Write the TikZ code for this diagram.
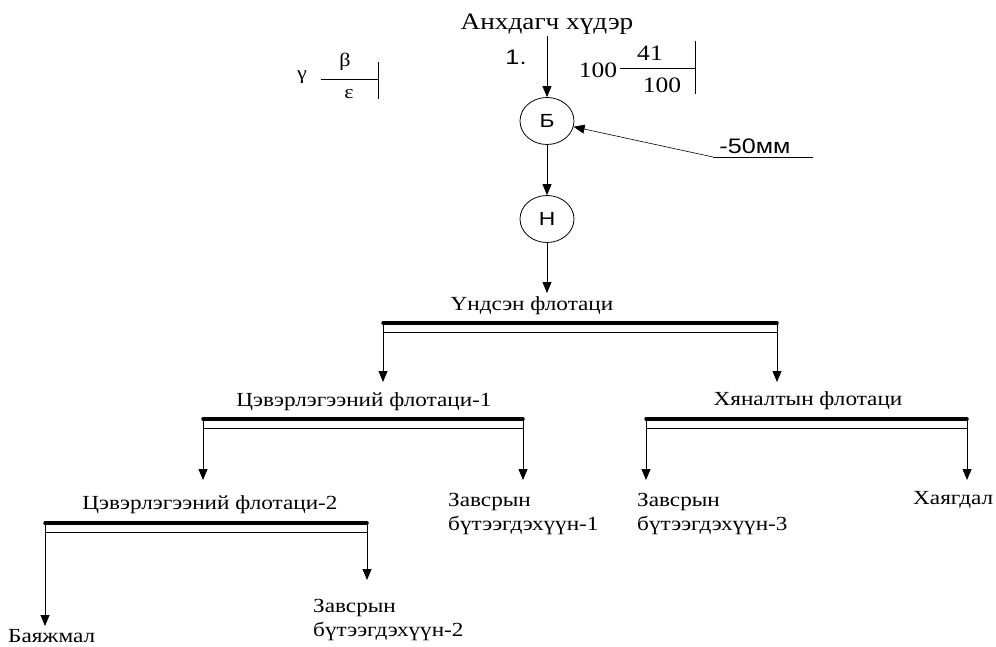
\documentclass[tikz,border=0pt]{standalone}
\usepackage{fontspec}
\setmainfont{Liberation Serif}[FakeStretch=1.16]
\newfontfamily\arialw{Liberation Sans}[FakeStretch=1.2]
\usetikzlibrary{arrows.meta,shapes.geometric}
\tikzset{
  flow/.style={-{Triangle[width=9pt,length=11pt]}, line width=0.8pt},
  lbl/.style={font=\fontsize{20}{24}\selectfont, inner sep=2pt},
  numlbl/.style={font=\fontsize{22}{26}\selectfont, inner sep=0pt},
  greek/.style={font=\fontsize{19}{21}\selectfont, inner sep=0pt},
  sanslbl/.style={font=\arialw\fontsize{21}{24}\selectfont, inner sep=0pt},
  stage/.style={ellipse, draw, line width=0.8pt, minimum width=54pt,
    minimum height=47pt, inner sep=0pt, font=\arialw\fontsize{19}{22}\selectfont},
  bar/.style={line width=3.5pt, line cap=round},
  thinbar/.style={line width=0.7pt},
}
\begin{document}
\begin{tikzpicture}[x=1pt,y=-1pt]
 \useasboundingbox (0,0) rectangle (996,647);
 % feed and preparation
 \node[lbl, font=\fontsize{23.5}{26}\selectfont] (feed) at (547,24) {Анхдагч хүдэр};
 \node[sanslbl] (num1) at (516,57) {1.};
 \node[stage] (crush) at (547,121) {Б};
 \node[stage] (grind) at (547,219) {Н};
 \draw[flow] (feed) -- (crush);
 \draw[flow] (crush) -- (grind);
 % legend
 \node[greek] (gam) at (302,77) {γ};
 \node[greek] (bet) at (345,62) {β};
 \node[greek] (eps) at (349,94) {ε};
 \coordinate (lg1) at (321,79);
 \coordinate (lg2) at (378,79);
 \draw[line width=0.8pt] (lg1) -- (lg2);
 \draw[line width=0.8pt] (378,62) -- (378,99);
 % balance of feed
 \node[numlbl] (bq) at (598,70) {100};
 \node[numlbl] (bg) at (650,53) {41};
 \node[numlbl] (be) at (662,85) {100};
 \coordinate (bl1) at (620,68);
 \coordinate (bl2) at (695,68);
 \draw[line width=0.8pt] (bl1) -- (bl2);
 \draw[line width=0.8pt] (695,41) -- (695,94);
 % crushed size
 \node[sanslbl] (size) at (755,146) {-50мм};
 \coordinate (rg) at (713,157);
 \coordinate (rgend) at (813,157);
 \draw[line width=0.6pt] (rgend) -- (rg);
 \draw[flow, line width=0.6pt] (rg) -- (crush);
 % flotation stages
 \node[lbl] (main) at (532,306) {Үндсэн флотаци};
 \node[lbl] (cl1) at (364,402) {Цэвэрлэгээний флотаци-1};
 \node[lbl] (ctl) at (808,401) {Хяналтын флотаци};
 \node[lbl] (cl2) at (210,505) {Цэвэрлэгээний флотаци-2};
 \foreach \nm/\xl/\xr/\yb in {main/383/777/323, cl1/203/523/419, ctl/646/967/419, cl2/45/367/523}{
   \coordinate (\nm-l) at (\xl,\yb);
   \coordinate (\nm-r) at (\xr,\yb);
   \draw[bar] (\nm-l) -- (\nm-r);
   \draw[thinbar] ([yshift=-9pt]\nm-l) -- ([yshift=-9pt]\nm-r);
 }
 \coordinate (mainin) at (547,293);
 \draw[flow] (grind) -- (mainin);
 % products
 \node[lbl, anchor=west, align=left] (conc1) at (446,514) {Завсрын\\бүтээгдэхүүн-1};
 \node[lbl, anchor=west, align=left] (conc3) at (635,514) {Завсрын\\бүтээгдэхүүн-3};
 \node[lbl, anchor=west] (tail) at (911,500) {Хаягдал};
 \node[lbl, anchor=west, align=left] (conc2) at (311,620) {Завсрын\\бүтээгдэхүүн-2};
 \node[lbl, inner sep=0pt, anchor=base west] (final) at (8,642) {Баяжмал};
 \coordinate (cl1in) at (383,382);
 \coordinate (ctlin) at (777,382);
 \coordinate (cl2in) at (203,480);
 \coordinate (conc1in) at (523,480);
 \coordinate (conc3in) at (646,480);
 \coordinate (tailin) at (967,480);
 \coordinate (conc2in) at (367,580);
 \coordinate (finalin) at (45,626);
 \draw[flow] (main-l) -- (cl1in);
 \draw[flow] (main-r) -- (ctlin);
 \draw[flow] (cl1-l) -- (cl2in);
 \draw[flow] (cl1-r) -- (conc1in);
 \draw[flow] (ctl-l) -- (conc3in);
 \draw[flow] (ctl-r) -- (tailin);
 \draw[flow] (cl2-r) -- (conc2in);
 \draw[flow] (cl2-l) -- (finalin);
\end{tikzpicture}
\end{document}
